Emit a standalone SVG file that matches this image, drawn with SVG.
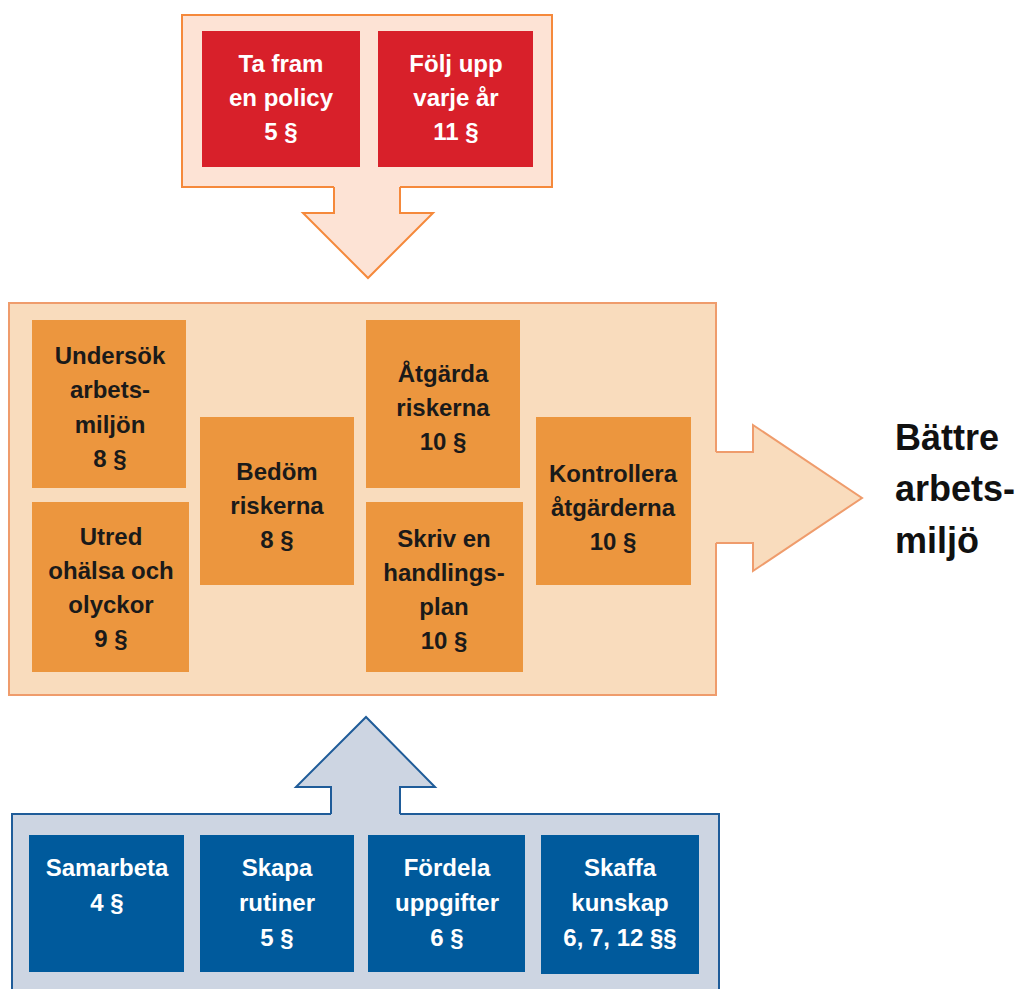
<svg xmlns="http://www.w3.org/2000/svg" width="1022" height="989" viewBox="0 0 1022 989">
<style>
.t{font-family:"Liberation Sans",Arial,sans-serif;font-weight:bold;font-size:24px;text-anchor:middle}
.w{fill:#ffffff}
.d{fill:#1a1a1a}
.red{fill:#d8202a}
.org{fill:#ec963e}
.blu{fill:#005a9c}
.big{font-family:"Liberation Sans",Arial,sans-serif;font-weight:bold;font-size:36px;fill:#111111}
</style>
<rect width="1022" height="989" fill="#ffffff"/>
<g id="containers">
<rect id="top-container" x="182" y="15" width="370" height="172" fill="#fde3d5" stroke="#f5893b" stroke-width="2"/>
<rect id="middle-container" x="9" y="303" width="707" height="392" fill="#f9dcbd" stroke="#ef9c6c" stroke-width="2"/>
<rect id="bottom-container" x="12" y="814" width="707" height="190" fill="#cdd5e2" stroke="#1f5c99" stroke-width="2"/>
</g>
<g id="connectors">
<polygon points="334,183 400,183 400,213 433,213 368,278 303,213 334,213" fill="#fde3d5"/>
<polyline points="334,187 334,213 303,213 368,278 433,213 400,213 400,187" fill="none" stroke="#f5893b" stroke-width="2" stroke-linejoin="miter"/>
<polygon points="712,452 753,452 753,425 862,498 753,571 753,543 712,543" fill="#f9dcbd"/>
<polyline points="716,452 753,452 753,425 862,498 753,571 753,543 716,543" fill="none" stroke="#ef9c6c" stroke-width="2"/>
<polygon points="331,818 331,787 296,787 366,717 435,787 400,787 400,818" fill="#cdd5e2"/>
<polyline points="331,814 331,787 296,787 366,717 435,787 400,787 400,814" fill="none" stroke="#1f5c99" stroke-width="2"/>
</g>
<g id="node-policy">
<rect class="red" x="202" y="31" width="158" height="136"/>
<text class="t w" x="281" y="72">Ta fram</text>
<text class="t w" x="281" y="106">en policy</text>
<text class="t w" x="281" y="140">5 §</text>
</g>
<g id="node-folj">
<rect class="red" x="378" y="31" width="155" height="136"/>
<text class="t w" x="456" y="72">Följ upp</text>
<text class="t w" x="456" y="106">varje år</text>
<text class="t w" x="456" y="140">11 §</text>
</g>
<g id="node-undersok">
<rect class="org" x="32" y="320" width="154" height="168"/>
<text class="t d" x="110" y="364">Undersök</text>
<text class="t d" x="110" y="398">arbets-</text>
<text class="t d" x="110" y="433">miljön</text>
<text class="t d" x="110" y="467">8 §</text>
</g>
<g id="node-utred">
<rect class="org" x="32" y="502" width="157" height="170"/>
<text class="t d" x="111" y="545">Utred</text>
<text class="t d" x="111" y="579">ohälsa och</text>
<text class="t d" x="111" y="613">olyckor</text>
<text class="t d" x="111" y="647">9 §</text>
</g>
<g id="node-bedom">
<rect class="org" x="200" y="417" width="154" height="168"/>
<text class="t d" x="277" y="480">Bedöm</text>
<text class="t d" x="277" y="514">riskerna</text>
<text class="t d" x="277" y="548">8 §</text>
</g>
<g id="node-atgarda">
<rect class="org" x="366" y="320" width="154" height="168"/>
<text class="t d" x="443" y="382">Åtgärda</text>
<text class="t d" x="443" y="416">riskerna</text>
<text class="t d" x="443" y="450">10 §</text>
</g>
<g id="node-skriv">
<rect class="org" x="366" y="502" width="157" height="170"/>
<text class="t d" x="444" y="547">Skriv en</text>
<text class="t d" x="444" y="581">handlings-</text>
<text class="t d" x="444" y="615">plan</text>
<text class="t d" x="444" y="649">10 §</text>
</g>
<g id="node-kontrollera">
<rect class="org" x="536" y="417" width="155" height="168"/>
<text class="t d" x="613" y="482">Kontrollera</text>
<text class="t d" x="613" y="516">åtgärderna</text>
<text class="t d" x="613" y="550">10 §</text>
</g>
<g id="node-battre">
<text class="big" x="895" y="450">Bättre</text>
<text class="big" x="895" y="501">arbets-</text>
<text class="big" x="895" y="553">miljö</text>
</g>
<g id="node-samarbeta">
<rect class="blu" x="29" y="835" width="155" height="137"/>
<text class="t w" x="107" y="876">Samarbeta</text>
<text class="t w" x="107" y="911">4 §</text>
</g>
<g id="node-skapa">
<rect class="blu" x="200" y="835" width="154" height="137"/>
<text class="t w" x="277" y="876">Skapa</text>
<text class="t w" x="277" y="911">rutiner</text>
<text class="t w" x="277" y="946">5 §</text>
</g>
<g id="node-fordela">
<rect class="blu" x="368" y="835" width="157" height="137"/>
<text class="t w" x="447" y="876">Fördela</text>
<text class="t w" x="447" y="911">uppgifter</text>
<text class="t w" x="447" y="946">6 §</text>
</g>
<g id="node-skaffa">
<rect class="blu" x="541" y="835" width="158" height="139"/>
<text class="t w" x="620" y="876">Skaffa</text>
<text class="t w" x="620" y="911">kunskap</text>
<text class="t w" x="620" y="946">6, 7, 12 §§</text>
</g>
</svg>
